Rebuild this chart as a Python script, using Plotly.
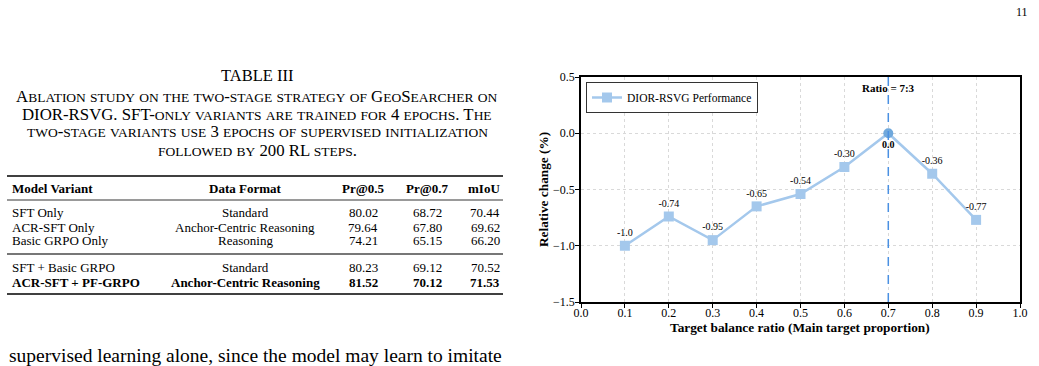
import plotly.graph_objects as go

W, H = 1039, 366
SERIF = "Liberation Serif, Times New Roman, serif"

# ---------------- data ----------------
ratios = [0.1, 0.2, 0.3, 0.4, 0.5, 0.6, 0.7, 0.8, 0.9]
rel_change = [-1.0, -0.74, -0.95, -0.65, -0.54, -0.30, 0.0, -0.36, -0.77]
point_labels = ["-1.0", "-0.74", "-0.95", "-0.65", "-0.54", "-0.30", "<b>0.0</b>", "-0.36", "-0.77"]
best_ratio = 0.7

table_header = ["Model Variant", "Data Format", "Pr@0.5", "Pr@0.7", "mIoU"]
variants = ["SFT Only", "ACR-SFT Only", "Basic GRPO Only", "SFT + Basic GRPO", "ACR-SFT + PF-GRPO"]
formats = ["Standard", "Anchor-Centric Reasoning", "Reasoning", "Standard", "Anchor-Centric Reasoning"]
pr05 = ["80.02", "79.64", "74.21", "80.23", "81.52"]
pr07 = ["68.72", "67.80", "65.15", "69.12", "70.12"]
miou = ["70.44", "69.62", "66.20", "70.52", "71.53"]

caption_title = "TABLE III"
caption_lines = [
    "Ablation study on the two-stage strategy of GeoSearcher on",
    "DIOR-RSVG. SFT-only variants are trained for 4 epochs. The",
    "two-stage variants use 3 epochs of supervised initialization",
    "followed by 200 RL steps.",
]
body_text = "supervised learning alone, since the model may learn to imitate"
page_number = "11"


def px(x):
    return x / W


def py(y):
    return 1 - y / H


def small_caps(s, small_size):
    out, run = [], ""
    for ch in s:
        if ch.islower():
            run += ch.upper()
        else:
            if run:
                out.append(f'<span style="font-size:{small_size}px">{run}</span>')
                run = ""
            out.append(ch)
    if run:
        out.append(f'<span style="font-size:{small_size}px">{run}</span>')
    return "".join(out)


def note(x, y, text, size, xanchor="center", bold=False, angle=0, **font_kw):
    fig.add_annotation(x=px(x), y=py(y), xref="paper", yref="paper",
                       text=f"<b>{text}</b>" if bold else text,
                       xanchor=xanchor, yanchor="middle", showarrow=False, textangle=angle,
                       font=dict(family=SERIF, size=size, color="black", **font_kw))


fig = go.Figure()

symbols = ["circle" if r == best_ratio else "square" for r in ratios]
colors = ["#6fa8dc" if r == best_ratio else "#a4c8ec" for r in ratios]
positions = ["bottom center" if r == best_ratio else "top center" for r in ratios]

fig.add_trace(go.Scatter(
    x=ratios, y=rel_change, mode="lines+markers+text",
    name="DIOR-RSVG Performance",
    line=dict(color="#a4c8ec", width=2.5),
    marker=dict(symbol=symbols, color=colors, size=10, line=dict(width=0)),
    text=point_labels, textposition=positions,
    textfont=dict(family=SERIF, size=10, color="black"),
))

fig.add_shape(type="line", xref="x", yref="y domain", x0=best_ratio, x1=best_ratio,
              y0=0, y1=1, line=dict(color="#4a90e2", width=1.5, dash="dash"))
fig.add_annotation(x=best_ratio, y=0.40, xref="x", yref="y", text="<b>Ratio = 7:3</b>",
                   xanchor="center", yanchor="middle",
                   showarrow=False, font=dict(family=SERIF, size=11, color="black"))

axis_common = dict(
    showline=True, mirror=True, linecolor="black", linewidth=1.5,
    ticks="outside", ticklen=4, tickcolor="black", tickwidth=1,
    showgrid=True, gridcolor="#d9d9d9", griddash="dot", gridwidth=1,
    zeroline=False, automargin=False,
    tickfont=dict(family=SERIF, size=12, color="black"),
)
fig.update_xaxes(domain=[px(581), px(1020)], range=[0, 1], tickvals=[i / 10 for i in range(11)],
                 tickformat=".1f", ticklabelstandoff=-5, **axis_common)
fig.update_yaxes(domain=[py(302), py(77)], range=[-1.5, 0.5], tickvals=[0.5, 0.0, -0.5, -1.0, -1.5],
                 tickformat=".1f", ticklabelstandoff=-2, **axis_common)

# axis titles
note(800, 327, "Target balance ratio (Main target proportion)", 13.3, bold=True)
note(543, 190, "Relative change (%)", 13.3, bold=True, angle=-90)

# ---------------- table caption ----------------
note(257, 75, caption_title, 16.5)
for i, line in enumerate(caption_lines):
    note(257, 96 + 18 * i, small_caps(line, 13.5), 16.8)

# ---------------- table ----------------
col_x = [10, 245, 363, 427, 502]
col_anchor = ["left", "center", "center", "center", "right"]
row_y = [212, 227, 241, 267, 282]

for cx, anc, h in zip(col_x, col_anchor, table_header):
    note(cx, 188, h, 13, xanchor=anc, bold=True)

for r in range(len(variants)):
    vals = [variants[r], formats[r], pr05[r], pr07[r], miou[r]]
    bold = r == len(variants) - 1
    for cx, anc, v in zip(col_x, col_anchor, vals):
        note(cx, row_y[r], v, 13, xanchor=anc, bold=bold)

rules = [(176, 1.3, "black"), (200, 0.8, "black"), (254, 2.0, "#777777"), (294, 1.3, "black")]
for y, w, c in rules:
    fig.add_shape(type="line", xref="paper", yref="paper", x0=px(7), x1=px(503), y0=py(y), y1=py(y),
                  line=dict(color=c, width=w))

# ---------------- page text ----------------
note(7, 355, body_text, 19.5, xanchor="left")
note(1030, 12, page_number, 12, xanchor="right")

fig.update_layout(
    width=W, height=H, margin=dict(l=0, r=0, t=0, b=0),
    paper_bgcolor="white", plot_bgcolor="white",
    showlegend=True,
    legend=dict(x=px(586), y=py(82), xanchor="left", yanchor="top", bgcolor="white",
                bordercolor="#333333", borderwidth=1, font=dict(family=SERIF, size=11.5, color="black"),
                itemwidth=30, tracegroupgap=0),
)

fig.write_html("out.html")
